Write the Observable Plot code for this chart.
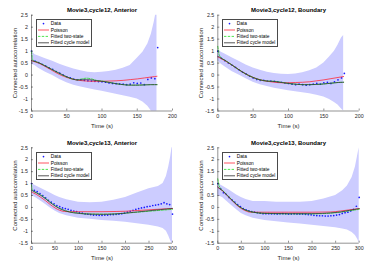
<!DOCTYPE html>
<html><head><meta charset="utf-8">
<script src="https://cdn.jsdelivr.net/npm/d3@7"></script>
<script src="https://cdn.jsdelivr.net/npm/@observablehq/plot@0.6"></script>
<style>
body{margin:0;background:#fff;}
#wrap{position:relative;width:374px;height:264px;overflow:hidden;background:#fff;}
.panel{position:absolute;}
.legbox{position:absolute;box-sizing:border-box;border:1px solid #4a4a4a;background:transparent;pointer-events:none;}
</style></head><body><div id="wrap"></div>
<script>
// ---------- shared labels / ticks ----------
const titles = ["Movie3,cycle12, Anterior","Movie3,cycle12, Boundary","Movie3,cycle13, Anterior","Movie3,cycle13, Boundary"];
const legendLabels = ["Data","Poisson","Fitted two-state","Fitted cycle model"];
const xLabel = "Time (s)";
const yLabel = "Connected autocorrelation";
const xTicksTop = [0,50,100,150,200];
const xTicksBottom = [0,50,100,150,200,250,300];
const yTicks = [-1.5,-1,-0.5,0,0.5,1,1.5,2,2.5];

// ---------- panel 1: cycle12 Anterior ----------
const p1DataT = [0,5,10,15,20,25,30,35,40,45,50,55,60,65,70,75,80,85,90,95,100,105,110,115,120,125,130,135,140,145,150,155,160,165,170,175,179];
const p1Data  = [1.00,0.58,0.52,0.45,0.38,0.30,0.24,0.15,0.08,0.00,-0.07,-0.12,-0.17,-0.20,-0.20,-0.22,-0.24,-0.25,-0.26,-0.27,-0.28,-0.30,-0.33,-0.35,-0.36,-0.37,-0.38,-0.40,-0.38,-0.32,-0.35,-0.33,-0.40,-0.18,-0.12,-0.15,1.15];
const p1ModelT = [0,2,10,20,30,40,50,60,65,70,78,85,92,100,110,120,130,140,150,160,170,178];
const p1Poisson = [0.60,0.58,0.50,0.35,0.18,0.02,-0.10,-0.18,-0.21,-0.23,-0.25,-0.26,-0.26,-0.26,-0.25,-0.24,-0.22,-0.19,-0.16,-0.12,-0.08,-0.05];
const p1TwoState = [1.00,0.62,0.52,0.38,0.22,0.06,-0.08,-0.18,-0.20,-0.17,-0.13,-0.16,-0.22,-0.25,-0.30,-0.36,-0.40,-0.42,-0.42,-0.41,-0.40,-0.40];
const p1Cycle = [0.60,0.59,0.52,0.37,0.22,0.07,-0.07,-0.18,-0.20,-0.20,-0.19,-0.20,-0.23,-0.26,-0.31,-0.36,-0.40,-0.42,-0.42,-0.41,-0.40,-0.40];
const p1BandT = [0,5,10,20,30,40,50,60,70,80,90,100,110,120,130,140,150,158,165,170,174,176,178];
const p1BandHi = [1.00,0.85,0.80,0.68,0.58,0.45,0.35,0.25,0.18,0.12,0.10,0.12,0.15,0.20,0.28,0.40,0.70,0.95,1.30,1.70,2.20,2.50,2.50];
const p1BandLo = [0.45,0.40,0.28,0.12,-0.02,-0.18,-0.32,-0.43,-0.50,-0.56,-0.62,-0.68,-0.74,-0.80,-0.86,-0.93,-1.00,-1.12,-1.30,-1.50,-1.50,-1.50,-1.50];

// ---------- panel 2: cycle12 Boundary ----------
const p2DataT = [0,5,10,15,20,25,30,35,40,45,50,55,60,65,70,75,80,85,90,95,100,105,110,115,120,125,130,135,140,145,150,155,160,165,170,175,179];
const p2Data  = [1.00,0.70,0.60,0.50,0.42,0.32,0.22,0.12,0.05,-0.05,-0.12,-0.18,-0.22,-0.22,-0.25,-0.25,-0.26,-0.28,-0.30,-0.33,-0.35,-0.38,-0.40,-0.38,-0.40,-0.42,-0.40,-0.38,-0.35,-0.38,-0.32,-0.30,-0.35,-0.28,-0.20,-0.12,0.07];
const p2ModelT = [0,2,5,10,20,30,40,50,60,70,80,90,100,110,120,130,140,150,160,170,178];
const p2Poisson = [0.75,0.73,0.68,0.60,0.42,0.22,0.04,-0.10,-0.20,-0.26,-0.30,-0.32,-0.32,-0.31,-0.30,-0.28,-0.24,-0.20,-0.15,-0.10,-0.06];
const p2TwoState = [1.20,0.85,0.72,0.62,0.42,0.22,0.04,-0.10,-0.20,-0.25,-0.26,-0.30,-0.35,-0.38,-0.40,-0.40,-0.39,-0.37,-0.34,-0.31,-0.30];
const p2Cycle = [0.78,0.76,0.70,0.62,0.42,0.22,0.04,-0.10,-0.20,-0.25,-0.27,-0.31,-0.35,-0.38,-0.40,-0.40,-0.39,-0.37,-0.34,-0.31,-0.30];
const p2BandT = [0,5,10,20,30,40,50,60,70,80,90,100,110,120,130,140,150,158,165,170,175,178];
const p2BandHi = [1.05,0.95,0.88,0.72,0.58,0.42,0.30,0.20,0.12,0.07,0.03,0.02,0.04,0.10,0.18,0.30,0.50,0.75,1.00,1.25,1.55,1.65];
const p2BandLo = [0.60,0.45,0.35,0.15,0.00,-0.15,-0.30,-0.40,-0.48,-0.55,-0.60,-0.65,-0.70,-0.74,-0.78,-0.84,-0.92,-1.02,-1.15,-1.25,-1.42,-1.50];

// ---------- panel 3: cycle13 Anterior ----------
const p3DataT = [0,6,12,18,24,30,36,42,48,54,60,66,72,78,84,90,96,102,108,114,120,126,132,138,144,150,156,162,168,174,180,186,192,198,204,210,216,222,228,234,240,246,252,258,264,270,276,282,288,294,300];
const p3Data  = [1.00,0.72,0.66,0.58,0.50,0.40,0.30,0.22,0.15,0.08,0.03,-0.02,-0.05,-0.08,-0.12,-0.15,-0.18,-0.22,-0.24,-0.27,-0.28,-0.30,-0.32,-0.32,-0.33,-0.33,-0.32,-0.32,-0.30,-0.30,-0.29,-0.28,-0.26,-0.24,-0.20,-0.16,-0.12,-0.08,-0.05,-0.02,0.00,0.03,0.05,0.08,0.10,0.12,0.15,0.20,0.15,0.12,-0.28];
const p3ModelT = [0,2,10,20,30,40,50,60,70,80,100,120,150,180,200,225,250,275,300];
const p3Poisson = [0.65,0.63,0.55,0.42,0.28,0.12,-0.02,-0.12,-0.17,-0.18,-0.18,-0.18,-0.18,-0.17,-0.16,-0.13,-0.10,-0.07,-0.05];
const p3TwoState = [0.95,0.72,0.62,0.52,0.38,0.22,0.08,-0.04,-0.12,-0.18,-0.24,-0.27,-0.28,-0.27,-0.24,-0.20,-0.16,-0.12,-0.08];
const p3Cycle = [0.72,0.70,0.62,0.50,0.36,0.20,0.06,-0.05,-0.13,-0.19,-0.25,-0.28,-0.29,-0.27,-0.24,-0.19,-0.14,-0.09,-0.04];
const p3BandT = [0,10,25,40,50,60,75,100,125,150,175,200,225,250,270,280,287,292,296,299,300];
const p3BandHi = [1.00,0.90,0.75,0.60,0.50,0.42,0.32,0.22,0.20,0.22,0.30,0.42,0.60,0.78,0.88,1.00,1.30,1.70,2.10,2.50,2.50];
const p3BandLo = [0.50,0.40,0.20,-0.02,-0.15,-0.25,-0.35,-0.45,-0.50,-0.55,-0.58,-0.62,-0.68,-0.75,-0.82,-0.88,-1.00,-1.20,-1.40,-1.50,-1.50];

// ---------- panel 4: cycle13 Boundary ----------
const p4DataT = [0,6,12,18,24,30,36,42,48,54,60,66,72,78,84,90,96,102,108,114,120,126,132,138,144,150,156,162,168,174,180,186,192,198,204,210,216,222,228,234,240,246,252,258,264,270,276,282,288,294,300];
const p4Data  = [1.00,0.78,0.62,0.55,0.42,0.32,0.22,0.12,0.03,-0.05,-0.10,-0.14,-0.17,-0.20,-0.22,-0.24,-0.26,-0.26,-0.26,-0.27,-0.27,-0.28,-0.27,-0.26,-0.27,-0.28,-0.28,-0.27,-0.28,-0.28,-0.28,-0.29,-0.30,-0.31,-0.33,-0.34,-0.35,-0.35,-0.36,-0.36,-0.35,-0.34,-0.32,-0.30,-0.25,-0.22,-0.20,-0.15,-0.08,0.05,0.42];
const p4ModelT = [0,3,10,20,30,40,50,60,68,75,100,150,200,240,260,280,300];
const p4Poisson = [0.85,0.80,0.70,0.50,0.30,0.10,-0.05,-0.15,-0.20,-0.20,-0.20,-0.20,-0.20,-0.19,-0.15,-0.10,-0.05];
const p4TwoState = [1.20,0.90,0.72,0.52,0.32,0.13,-0.02,-0.12,-0.17,-0.20,-0.25,-0.27,-0.27,-0.24,-0.20,-0.14,-0.08];
const p4Cycle = [0.85,0.80,0.70,0.50,0.30,0.12,-0.02,-0.12,-0.17,-0.20,-0.25,-0.26,-0.26,-0.23,-0.19,-0.12,-0.05];
const p4BandT = [0,10,25,40,50,60,75,100,125,150,175,200,225,250,265,275,285,292,297,300];
const p4BandHi = [1.00,0.90,0.72,0.52,0.42,0.33,0.25,0.25,0.22,0.22,0.22,0.25,0.35,0.50,0.70,0.90,1.25,1.70,2.20,2.50];
const p4BandLo = [0.50,0.42,0.15,-0.10,-0.25,-0.35,-0.45,-0.55,-0.60,-0.65,-0.70,-0.75,-0.80,-0.85,-0.90,-0.95,-1.05,-1.18,-1.35,-1.50];

const panels = [
  {title:titles[0], left:0,   top:0,   xMax:200, xTicks:xTicksTop, ml:31,   mr:15,   mt:14.7, mb:21.5,
   dataT:p1DataT, data:p1Data, modelT:p1ModelT, poisson:p1Poisson, twoState:p1TwoState, cycle:p1Cycle, bandT:p1BandT, bandHi:p1BandHi, bandLo:p1BandLo},
  {title:titles[1], left:187, top:0,   xMax:200, xTicks:xTicksTop, ml:30.3, mr:15.3, mt:14.7, mb:21.5,
   dataT:p2DataT, data:p2Data, modelT:p2ModelT, poisson:p2Poisson, twoState:p2TwoState, cycle:p2Cycle, bandT:p2BandT, bandHi:p2BandHi, bandLo:p2BandLo},
  {title:titles[2], left:0,   top:132, xMax:300, xTicks:xTicksBottom, ml:31,   mr:15,   mt:15.3, mb:21.3,
   dataT:p3DataT, data:p3Data, modelT:p3ModelT, poisson:p3Poisson, twoState:p3TwoState, cycle:p3Cycle, bandT:p3BandT, bandHi:p3BandHi, bandLo:p3BandLo},
  {title:titles[3], left:187, top:132, xMax:300, xTicks:xTicksBottom, ml:30.3, mr:15.3, mt:15.3, mb:21.3,
   dataT:p4DataT, data:p4Data, modelT:p4ModelT, poisson:p4Poisson, twoState:p4TwoState, cycle:p4Cycle, bandT:p4BandT, bandHi:p4BandHi, bandLo:p4BandLo}
];

const FONT = "'Liberation Sans', Arial, Helvetica, sans-serif";
const AX = "#262626";
const C_BAND = "#ccccff", C_DATA = "#1a1aff", C_POIS = "#ff2a3a", C_TWO = "#22dd22", C_CYC = "#2b2b2b";
const LEG_W = 56, LEG_H = 28;

function makePanel(p) {
  const dataRows = p.dataT.map((t, i) => ({t, v: p.data[i]}));
  const modelRows = p.modelT.map((t, i) => ({t, p: p.poisson[i], g: p.twoState[i], c: p.cycle[i]}));
  const bandRows = p.bandT.map((t, i) => ({t, lo: p.bandLo[i], hi: p.bandHi[i]}));
  const W = 187, H = 132;
  const svg = Plot.plot({
    width: W, height: H,
    marginLeft: p.ml, marginRight: p.mr, marginTop: p.mt, marginBottom: p.mb,
    style: {fontFamily: FONT, fontSize: "5.3px", color: AX, background: "transparent", overflow: "visible"},
    x: {domain: [0, p.xMax]},
    y: {domain: [-1.5, 2.5]},
    marks: [
      Plot.areaY(bandRows, {x: "t", y1: "lo", y2: "hi", fill: C_BAND}),
      Plot.dot(dataRows, {x: "t", y: "v", r: 0.85, fill: C_DATA, stroke: null}),
      Plot.line(modelRows, {x: "t", y: "p", stroke: C_POIS, strokeWidth: 0.8, curve: "monotone-x"}),
      Plot.line(modelRows, {x: "t", y: "g", stroke: C_TWO, strokeWidth: 0.8, strokeDasharray: "2.4,1.4", curve: "monotone-x"}),
      Plot.line(modelRows, {x: "t", y: "c", stroke: C_CYC, strokeWidth: 0.7, curve: "monotone-x"}),
      Plot.ruleX([0], {stroke: AX, strokeWidth: 0.5}),
      Plot.ruleY([-1.5], {stroke: AX, strokeWidth: 0.5}),
      Plot.axisX(p.xTicks, {tickSize: -2, tickPadding: 5, strokeWidth: 0.5, tickFormat: d => String(d),
        label: xLabel, labelAnchor: "center", labelOffset: 17, labelArrow: "none"}),
      Plot.axisY(yTicks, {tickSize: -2, tickPadding: 5.5, strokeWidth: 0.5, tickFormat: d => String(d),
        label: yLabel, labelAnchor: "center", labelOffset: 19, labelArrow: "none"}),
      Plot.text([p.title], {frameAnchor: "top", dy: -7.5, fontWeight: "bold", fontSize: 6, fill: "#000"})
    ]
  });
  const s = d3.select(svg);
  s.selectAll('g[aria-label="x-axis label"] text, g[aria-label="y-axis label"] text')
    .attr("font-size", 6).attr("font-weight", "normal");
  // legend contents (box border drawn as HTML overlay)
  const bx = Math.round(p.ml + 5), by = Math.round(p.mt + 4.6);
  const g = s.append("g").attr("font-family", FONT).attr("font-size", 4.8).attr("text-anchor", "start");
  const styles = [
    {dot: true},
    {stroke: C_POIS},
    {stroke: C_TWO, dash: "2.4,1.4"},
    {stroke: C_CYC}
  ];
  legendLabels.forEach((lab, i) => {
    const yy = by + 4.6 + 6.4 * i;
    const st = styles[i];
    if (st.dot) {
      g.append("circle").attr("cx", bx + 7.5).attr("cy", yy).attr("r", 0.85).attr("fill", C_DATA);
    } else {
      g.append("line").attr("x1", bx + 2).attr("x2", bx + 13).attr("y1", yy).attr("y2", yy)
        .attr("stroke", st.stroke).attr("stroke-width", 0.8).attr("stroke-dasharray", st.dash || null);
    }
    g.append("text").attr("x", bx + 14.7).attr("y", yy).attr("dy", "0.35em")
      .attr("text-anchor", "start").attr("fill", "#000").text(lab);
  });
  return {svg, bx, by};
}

const wrap = document.getElementById("wrap");
panels.forEach(p => {
  const div = document.createElement("div");
  div.className = "panel";
  div.style.left = p.left + "px";
  div.style.top = p.top + "px";
  const {svg, bx, by} = makePanel(p);
  div.appendChild(svg);
  wrap.appendChild(div);
  const box = document.createElement("div");
  box.className = "legbox";
  box.style.left = (p.left + bx) + "px";
  box.style.top = (p.top + by) + "px";
  box.style.width = LEG_W + "px";
  box.style.height = LEG_H + "px";
  wrap.appendChild(box);
});
</script>
</body></html>
